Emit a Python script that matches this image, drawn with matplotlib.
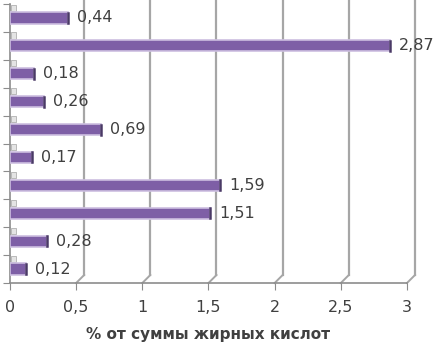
import matplotlib
matplotlib.use("Agg")
import matplotlib.pyplot as plt
from matplotlib.patches import Rectangle

values = [0.44, 2.87, 0.18, 0.26, 0.69, 0.17, 1.59, 1.51, 0.28, 0.12]
labels = ["0,44", "2,87", "0,18", "0,26", "0,69", "0,17", "1,59", "1,51", "0,28", "0,12"]
xticks = [0, 0.5, 1, 1.5, 2, 2.5, 3]
xticklabels = ["0", "0,5", "1", "1,5", "2", "2,5", "3"]
xlabel = "% от суммы жирных кислот"

W, H = 439, 348
fig = plt.figure(figsize=(W / 100, H / 100), dpi=100)
L, R = 10, 407
T, B = 4, 283
ax = fig.add_axes([L / W, (H - B) / H, (R - L) / W, (B - T) / H])
ax.set_xlim(0, 3)
n = len(values)
ax.set_ylim(n - 0.5, -0.5)
pxu = (R - L) / 3.0
pyu = (B - T) / n

grid_c = "#A6A6A6"
off = 8
# gridlines on back wall with floor diagonal
for v in xticks[1:]:
    ax.plot([v + off / pxu, v + off / pxu], [-0.5 - 2, n - 0.5 - off / pyu],
            color=grid_c, lw=1.6, clip_on=False, zorder=1)
    ax.plot([v + off / pxu, v], [n - 0.5 - off / pyu, n - 0.5],
            color=grid_c, lw=1.4, clip_on=False, zorder=1)

y = list(range(n))
ax.barh(y, values, height=0.40, color="#7E5FA6", edgecolor="#CDBFE0",
        linewidth=1.2, zorder=3)
for yi, v in zip(y, values):
    ax.plot([v, v], [yi - 0.18, yi + 0.18], color="#4A3A66", lw=1.8, zorder=4)

for yi, v, t in zip(y, values, labels):
    ax.text(v + 9 / pxu, yi, t, va="center", ha="left", fontsize=11.5,
            color="#404040", zorder=5)

for s in ["top", "right"]:
    ax.spines[s].set_visible(False)
ax.spines["left"].set_color("#8C8C8C")
ax.spines["bottom"].set_color("#8C8C8C")
ax.spines["left"].set_linewidth(1.2)
ax.spines["bottom"].set_linewidth(1.2)

ax.set_xticks(xticks)
ax.set_xticklabels(xticklabels, fontsize=11.5, color="#404040")
ax.tick_params(axis="x", length=5, color="#8C8C8C", pad=7)
ax.set_yticks([i + 0.5 for i in range(-1, n)])
ax.set_yticklabels([])
ax.tick_params(axis="y", length=5, color="#8C8C8C")

# small wall pieces near left axis
for i in range(n):
    ax.add_patch(Rectangle((0.005, i - 0.48), 5 / pxu, 0.22, facecolor="#E4E4E4",
                           edgecolor="#B0B0B0", lw=0.6, zorder=2, clip_on=False))

ax.set_xlabel(xlabel, fontsize=11, fontweight="bold", color="#404040", labelpad=9)

fig.savefig("out.png", dpi=100)
